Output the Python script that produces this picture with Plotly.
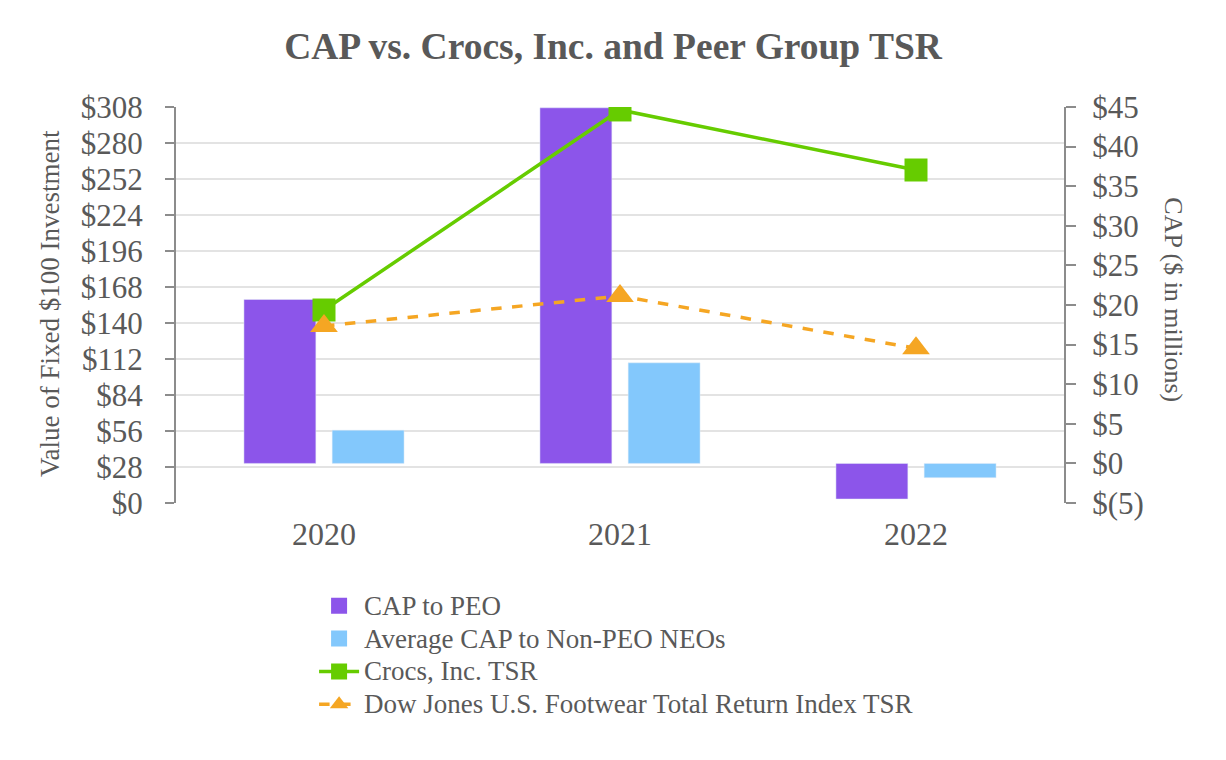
import plotly.graph_objects as go

years = ["2020", "2021", "2022"]
cap_peo = [20.7, 44.9, -4.5]
cap_neo = [4.2, 12.7, -1.8]
crocs_tsr = [150.1, 305.7, 259.0]
dj_tsr = [137.7, 161.0, 120.3]

left_ticks = [0, 28, 56, 84, 112, 140, 168, 196, 224, 252, 280, 308]
left_text = ["$" + str(v) for v in left_ticks]
right_ticks = [-5, 0, 5, 10, 15, 20, 25, 30, 35, 40, 45]
right_text = ["$(5)", "$0", "$5", "$10", "$15", "$20", "$25", "$30", "$35", "$40", "$45"]

FONT = "Liberation Serif, Times New Roman, serif"
GRAY = "#595959"
AXIS = "#8C8C8C"
PURPLE = "#8C55EA"
BLUE = "#83C8FC"


def lg(name):
    return "<span style='font-size:27px'>" + name + "</span>"


fig = go.Figure()
bw = 0.243
fig.add_trace(go.Bar(x=years, y=cap_peo, name="CAP to PEO", marker_color=PURPLE,
                     width=bw, offset=-0.149 - bw / 2, yaxis="y", showlegend=False,
                     legendgroup="peo"))
fig.add_trace(go.Bar(x=years, y=cap_neo, name="Average CAP to Non-PEO NEOs", marker_color=BLUE,
                     width=bw, offset=0.149 - bw / 2, yaxis="y", showlegend=False,
                     legendgroup="neo"))
# legend entries for the bars (larger square swatches)
fig.add_trace(go.Scatter(x=[None], y=[None], name=lg("CAP to PEO"), mode="markers",
                         marker=dict(symbol="square", size=24, color=PURPLE),
                         legendgroup="peo", yaxis="y"))
fig.add_trace(go.Scatter(x=[None], y=[None], name=lg("Average CAP to Non-PEO NEOs"), mode="markers",
                         marker=dict(symbol="square", size=24, color=BLUE),
                         legendgroup="neo", yaxis="y"))
fig.add_trace(go.Scatter(x=years, y=crocs_tsr, name=lg("Crocs, Inc. TSR"), mode="lines+markers",
                         line=dict(color="#66CC00", width=3.5),
                         marker=dict(symbol="square", size=23, color="#66CC00"), yaxis="y2"))
fig.add_trace(go.Scatter(x=years, y=dj_tsr, name=lg("Dow Jones U.S. Footwear Total Return Index TSR"),
                         mode="lines+markers",
                         line=dict(color="#F5A623", width=3.5, dash="dash"),
                         marker=dict(symbol="triangle-up", size=24, color="#F5A623"), yaxis="y2"))

fig.update_layout(
    width=1226, height=760,
    paper_bgcolor="white", plot_bgcolor="white",
    margin=dict(l=168, r=170, t=99, b=265),
    font=dict(family=FONT, color=GRAY),
    title=dict(text="<b>CAP vs. Crocs, Inc. and Peer Group TSR</b>", x=0.4935, xanchor="center",
               y=0.95, yanchor="middle", font=dict(size=37.5, color=GRAY, family=FONT)),
    xaxis=dict(type="category", range=[-0.5, 2.5], showgrid=False, showline=False, ticks="",
               tickfont=dict(size=32, color=GRAY), ticklabelstandoff=9),
    yaxis=dict(side="right", range=[-5, 45], tickvals=right_ticks, ticktext=right_text,
               showgrid=False, zeroline=False, showline=True, linecolor=AXIS, linewidth=2,
               ticks="outside", ticklen=10, tickwidth=2, tickcolor=AXIS,
               tickfont=dict(size=31, color=GRAY), ticklabelstandoff=10),
    yaxis2=dict(side="left", overlaying="y", range=[0, 308], tickvals=left_ticks, ticktext=left_text,
                showgrid=True, gridcolor="#E3E3E3", gridwidth=1.5, zeroline=False,
                showline=True, linecolor=AXIS, linewidth=2,
                ticks="outside", ticklen=9, tickwidth=2, tickcolor=AXIS,
                tickfont=dict(size=31, color=GRAY), ticklabelstandoff=16),
    legend=dict(x=0.1555, xanchor="left", y=-0.205, yanchor="top", orientation="v",
                font=dict(size=23, color=GRAY), bgcolor="rgba(0,0,0,0)", tracegroupgap=0,
                itemwidth=40),
    showlegend=True,
    annotations=[
        dict(text="Value of Fixed $100 Investment", xref="paper", yref="paper",
             x=-0.142, y=0.505, textangle=-90, showarrow=False, xanchor="center", yanchor="middle",
             font=dict(size=27, color=GRAY, family=FONT)),
        dict(text="CAP ($ in millions)", xref="paper", yref="paper",
             x=1.1233, y=0.513, textangle=90, showarrow=False, xanchor="center", yanchor="middle",
             font=dict(size=26, color=GRAY, family=FONT)),
    ],
)

fig.write_html("out.html")
